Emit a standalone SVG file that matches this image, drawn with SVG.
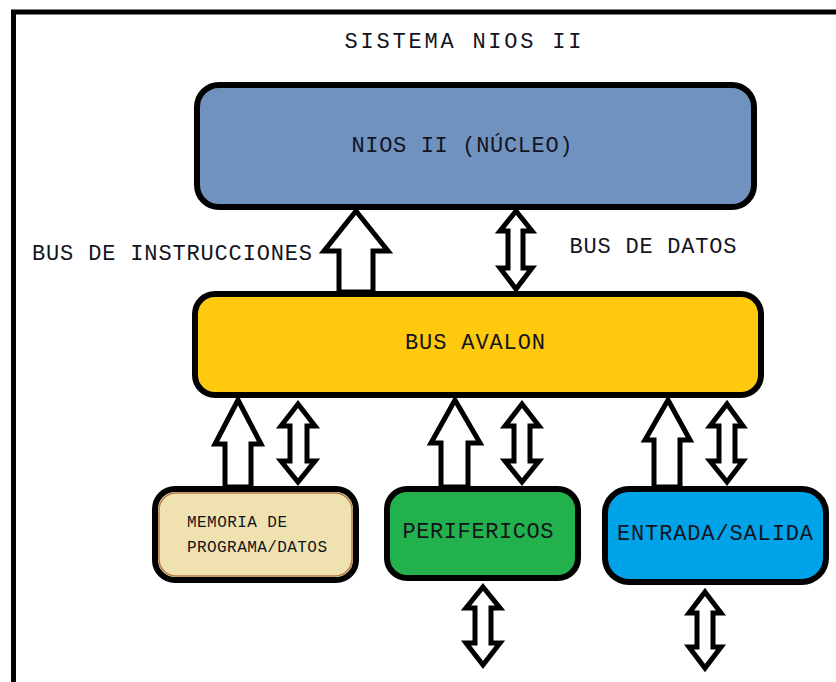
<svg xmlns="http://www.w3.org/2000/svg" width="836" height="682" viewBox="0 0 836 682">
<style>
.box{stroke:#000;stroke-width:6}
.t{font-family:"Liberation Mono","Courier New",monospace;font-size:22px;fill:#14141e;text-anchor:middle;dominant-baseline:central}
.s{font-size:16px}
.arr{fill:#fff;stroke:#000;stroke-width:5;stroke-linejoin:miter}
</style>
<rect x="0" y="0" width="836" height="682" fill="#fff"/>
<rect x="13.5" y="12" width="900" height="900" fill="none" stroke="#000" stroke-width="5"/>
<text class="t" x="463" y="42" textLength="237" lengthAdjust="spacing">SISTEMA NIOS II</text>
<text class="t" x="172" y="254" textLength="280" lengthAdjust="spacing">BUS DE INSTRUCCIONES</text>
<text class="t" x="653" y="247" textLength="167" lengthAdjust="spacing">BUS DE DATOS</text>

<g id="connectors">
  <polygon class="arr" points="356,211 388,251 373,251 373,292 339,292 339,251 324,251"/>
  <polygon class="arr" points="516,211 532,231 523,231 523,268 532,268 516,289 500,268 508,268 508,231 500,231"/>
  <polygon class="arr" points="238,400 261,444 251,444 251,487 225,487 225,444 215,444"/>
  <polygon class="arr" points="298,404 315,426 307,426 307,461 315,461 298,482 281,461 290,461 290,426 281,426"/>
  <polygon class="arr" points="455,400 480,443 468,443 468,487 441,487 441,443 431,443"/>
  <polygon class="arr" points="522,404 539,426 530,426 530,461 539,461 522,482 505,461 514,461 514,426 505,426"/>
  <polygon class="arr" points="668,400 690,440 680,440 680,487 654,487 654,440 645,440"/>
  <polygon class="arr" points="727,404 743,426 735,426 735,461 743,461 727,482 710,461 719,461 719,426 710,426"/>
  <polygon class="arr" points="483,587 500,608 491,608 491,643 500,643 483,665 466,643 475,643 475,608 466,608"/>
  <polygon class="arr" points="705,592 721,613 713,613 713,647 721,647 705,668 689,647 697,647 697,613 689,613"/>
</g>

<g id="nios">
  <rect class="box" x="197" y="85" width="557" height="122" rx="22" fill="#6F92BF"/>
  <text class="t" x="462" y="146" textLength="221" lengthAdjust="spacing">NIOS II (NÚCLEO)</text>
</g>
<g id="avalon">
  <rect class="box" x="195" y="294" width="566" height="101" rx="20" fill="#FFC90E"/>
  <text class="t" x="475" y="343" textLength="140" lengthAdjust="spacing">BUS AVALON</text>
</g>
<g id="memoria">
  <rect class="box" x="155" y="489" width="201" height="91" rx="20" fill="#EFE2B0"/>
  <rect x="159" y="493" width="193" height="83" rx="17" fill="none" stroke="#B7794A" stroke-width="1.5"/>
  <text class="t s" x="237" y="523" textLength="100" lengthAdjust="spacing">MEMORIA DE</text>
  <text class="t s" x="257" y="548" textLength="140" lengthAdjust="spacing">PROGRAMA/DATOS</text>
</g>
<g id="perifericos">
  <rect class="box" x="387" y="489" width="191" height="89" rx="20" fill="#22B14C"/>
  <text class="t" x="478" y="532" textLength="151" lengthAdjust="spacing">PERIFERICOS</text>
</g>
<g id="entrada_salida">
  <rect class="box" x="605" y="489" width="221" height="93" rx="24" fill="#00A2E8"/>
  <text class="t" x="715" y="534" textLength="196" lengthAdjust="spacing">ENTRADA/SALIDA</text>
</g>
</svg>
